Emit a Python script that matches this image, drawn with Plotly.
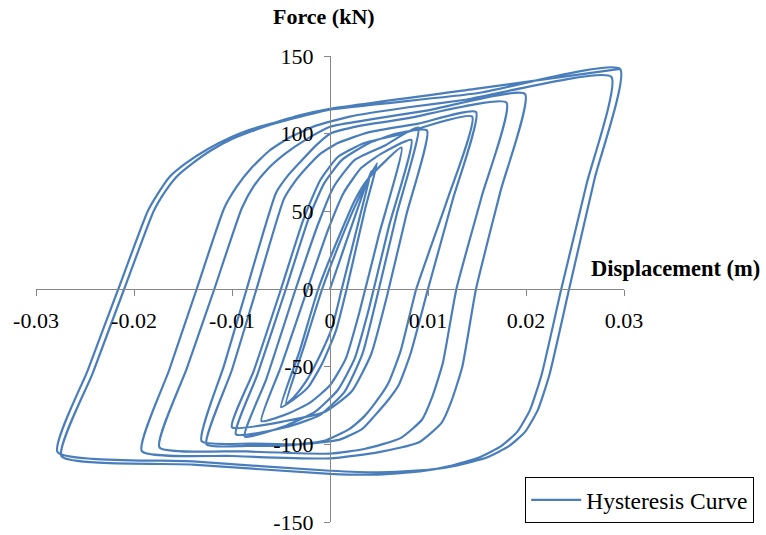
import plotly.graph_objects as go

# ---- hysteresis cycles (displacement in m, force in kN) ----
start_x = [0.0]
start_y = [0.0]

cF2_x = [0.0042, 0.0031, 0.0012, 0.0002, -0.0012, -0.0025, -0.0036, -0.0045, -0.0027, -0.0008, 0.0010, 0.0026, 0.0036]
cF2_y = [76, 48, 0, -25, -45, -60, -69, -74, -38, 0, 30, 54, 67]

cF1_x = [0.0048, 0.0036, 0.0017, 0.0006, -0.0008, -0.0022, -0.0037, -0.0050, -0.0031, -0.0012, 0.0008, 0.0026, 0.0039]
cF1_y = [81, 52, 0, -27, -48, -63, -71, -76, -40, 0, 32, 58, 71]

cE2_x = [0.0073, 0.0050, 0.0030, 0.0016, 0.0000, -0.0020, -0.0042, -0.0070, -0.0050, -0.0023, -0.0002, 0.0014, 0.0032, 0.0052]
cE2_y = [91, 35, -15, -45, -62, -73, -80, -85, -50, 0, 38, 62, 78, 87]

cE1_x = [0.0083, 0.0060, 0.0040, 0.0025, 0.0008, -0.0015, -0.0045, -0.0087, -0.0065, -0.0035, -0.0012, 0.0004, 0.0025, 0.0055]
cE1_y = [96, 40, -12, -45, -65, -79, -88, -95, -58, 0, 42, 66, 83, 92]

cD2_x = [0.0090, 0.0068, 0.0048, 0.0033, 0.0015, -0.0010, -0.0045, -0.0096,
         -0.0074, -0.0045, -0.0022, -0.0006, 0.0012, 0.0040, 0.0068]
cD2_y = [104, 48, -5, -42, -66, -81, -89, -93.5,
         -55, 0, 45, 68, 83, 94, 100]

cD1_x = [0.0099, 0.0078, 0.0058, 0.0042, 0.0022, -0.0005, -0.0045, -0.0100,
         -0.0078, -0.0050, -0.0027, -0.0010, 0.0008, 0.0035, 0.0068]
cD1_y = [102, 48, -5, -42, -66, -79, -85, -89,
         -53, 0, 45, 70, 85, 94, 99]

cC2_x = [0.0145, 0.0120, 0.0100, 0.0088, 0.0072, 0.0060, 0.0050, 0.0035, 0.0020, -0.0005, -0.0040, -0.0085, -0.0126,
         -0.0100, -0.0075, -0.0047, -0.0036, -0.0024, -0.0010, 0.0008, 0.0040, 0.0090]
cC2_y = [111, 58, 22, 0, -40, -60, -70, -82, -90, -97.5, -100.5, -101, -100,
         -52, 0, 58, 69, 78, 87, 94, 101, 106.5]

cC1_x = [0.0149, 0.0125, 0.0100, 0.0082, 0.0070, 0.0060, 0.0045, 0.0033, 0.0010, -0.0030, -0.0080, -0.0131,
         -0.0108, -0.0085, -0.0055, -0.0043, -0.0030, -0.0015, 0.0000, 0.0030, 0.0080]
cC1_y = [114, 57, 0, -42, -62, -71, -82, -90, -97, -100, -99.5, -98,
         -49, 0, 62, 73, 82, 92, 100, 105, 110]

cB2_x = [0.0180, 0.0155, 0.0129, 0.0115, 0.0104, 0.0094, 0.0072, 0.0035, 0.0000, -0.0090, -0.0174,
         -0.0146, -0.0118, -0.0090, -0.0078, -0.0064, -0.0046, -0.0025, 0.0000, 0.0040, 0.0100]
cB2_y = [120, 60, 0, -48, -70, -84, -96, -103, -106, -104.5, -102,
         -51, 0, 52, 66, 77, 87, 96, 104.5, 109, 115]

cB1_x = [0.0199, 0.0174, 0.0149, 0.0135, 0.0124, 0.0114, 0.0091, 0.0050, 0.0000, -0.0100, -0.0192,
         -0.0164, -0.0136, -0.0108, -0.0095, -0.0080, -0.0062, -0.0040, -0.0015, 0.0020, 0.0080, 0.0140]
cB1_y = [125.6, 63, 0, -50, -72, -86, -98.6, -105, -109, -107.5, -104.4,
         -52, 0, 52, 66, 78, 89, 98, 105, 111, 117, 122]

cA2_x = [0.0287, 0.0262, 0.0236, 0.0216, 0.0204, 0.0191, 0.0175, 0.0152, 0.0122, 0.0092, 0.0045, 0.0000, -0.0140, -0.0274,
         -0.0242, -0.0210, -0.0180, -0.0169, -0.0157, -0.0140, -0.0122, -0.0100, -0.0080, -0.0060, -0.0030, 0.0000, 0.0150]
cA2_y = [136.6, 68, 0, -55, -78, -92, -101, -108.5, -114, -117.5, -119.5, -119, -113, -107.6,
         -54, 0, 50, 62, 72, 81, 89, 96.5, 101.5, 106, 111, 115.5, 126]

cA1_x = [0.0296, 0.0270, 0.0244, 0.0224, 0.0212, 0.0199, 0.0183, 0.0160, 0.0130, 0.0100, 0.0050, 0.0000, -0.0140, -0.0278,
         -0.0247, -0.0216, -0.0186, -0.0175, -0.0164, -0.0147, -0.0125, -0.0100, -0.0082, -0.0060, -0.0030, 0.0000, 0.0150, 0.0296]
cA1_y = [141.7, 71, 0, -55, -78, -92, -101, -108.5, -113.5, -116.5, -118, -117, -111, -105,
         -52, 0, 50, 62, 72, 81, 90, 98, 102.5, 106.5, 112, 116, 129, 141.7]

x_ticks = [-0.03, -0.02, -0.01, 0, 0.01, 0.02, 0.03]
x_tick_text = ["-0.03", "-0.02", "-0.01", "0", "0.01", "0.02", "0.03"]
y_ticks = [-150, -100, -50, 0, 50, 100, 150]
y_tick_text = ["-150", "-100", "-50", "0", "50", "100", "150"]

cycles_x = [start_x, cF2_x, cF1_x, cE2_x, cE1_x, cD2_x, cD1_x, cC2_x, cC1_x, cB2_x, cB1_x, cA2_x, cA1_x]
cycles_y = [start_y, cF2_y, cF1_y, cE2_y, cE1_y, cD2_y, cD1_y, cC2_y, cC1_y, cB2_y, cB1_y, cA2_y, cA1_y]
disp = [v for c in cycles_x for v in c]
force = [v for c in cycles_y for v in c]

LINE = "#4A7EBB"
AXIS = "#868686"
FONT = "Liberation Serif"

fig = go.Figure()
fig.add_trace(go.Scatter(
    x=disp, y=force, mode="lines", name="Hysteresis Curve",
    line=dict(color=LINE, width=2.2, shape="spline", smoothing=0.5),
))

fig.update_layout(
    width=766, height=535,
    margin=dict(l=36, r=140, t=56, b=13),
    paper_bgcolor="white", plot_bgcolor="white",
    font=dict(family=FONT, size=22, color="black"),
    showlegend=True,
    legend=dict(x=0.832, y=0.047, xanchor="left", yanchor="middle",
                bordercolor="black", borderwidth=1, bgcolor="white",
                itemwidth=50, entrywidth=166, entrywidthmode="pixels",
                font=dict(family=FONT, size=23.5, color="black")),
    xaxis=dict(range=[-0.03, 0.03], tickvals=x_ticks, ticktext=x_tick_text,
               anchor="free", position=0.5, showline=True, linecolor=AXIS, linewidth=1,
               ticks="outside", ticklen=6, tickcolor=AXIS, showgrid=False, zeroline=False,
               automargin=False,
               ticklabelstandoff=6, tickfont=dict(family=FONT, size=22, color="black")),
    yaxis=dict(range=[-150, 150], tickvals=y_ticks, ticktext=y_tick_text,
               anchor="free", position=0.5, showline=True, linecolor=AXIS, linewidth=1,
               ticks="outside", ticklen=6, tickcolor=AXIS, showgrid=False, zeroline=False,
               automargin=False,
               ticklabelstandoff=6, tickfont=dict(family=FONT, size=22, color="black")),
    annotations=[
        dict(text="<b>Force (kN)</b>", xref="paper", yref="paper", x=0.49, y=1.084,
             xanchor="center", yanchor="middle", showarrow=False,
             font=dict(family=FONT, size=22, color="black")),
        dict(text="<b>Displacement (m)</b>", xref="paper", yref="paper", x=0.9407, y=0.543,
             xanchor="left", yanchor="middle", showarrow=False,
             font=dict(family=FONT, size=22.5, color="black")),
    ],
)

fig.write_html("out.html")
